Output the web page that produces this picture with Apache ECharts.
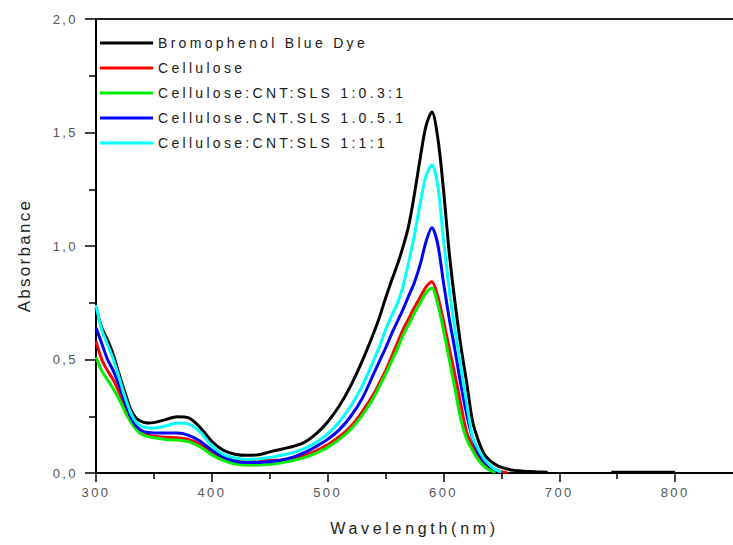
<!DOCTYPE html>
<html>
<head>
<meta charset="utf-8">
<script src="https://cdn.jsdelivr.net/npm/echarts@6.0.0/dist/echarts.min.js"></script>
<style>
  html, body { margin: 0; padding: 0; background: #fff; }
  #chart { width: 733px; height: 545px; }
  #chart text[style*="13px"] { letter-spacing: 2.4px; }
  #chart text[style*="14px"] { letter-spacing: 3.3px; }
  #chart text[style*="16px"] { letter-spacing: 3.7px; }
  #chart text[style*="17px"] { letter-spacing: 2.3px; }
</style>
</head>
<body>
<div id="chart"></div>
<script>
// Wavelength sampling points (nm)
const wavelengths = [300,305,310,315,320,325,330,335,340,345,350,360,370,380,390,400,410,420,430,440,450,460,470,480,490,500,510,520,530,540,545,550,555,560,565,570,575,580,585,590,595,600,605,610,615,620,625,630,635,640,645,650,655,660,670,680,690,700,745,760,780,800];

// Absorbance values for each sample
const bromophenolBlue = [0.73,0.64,0.585,0.52,0.435,0.355,0.28,0.24,0.225,0.22,0.222,0.235,0.248,0.243,0.20,0.14,0.10,0.083,0.078,0.08,0.093,0.105,0.117,0.135,0.172,0.225,0.295,0.385,0.495,0.62,0.69,0.77,0.845,0.915,0.995,1.09,1.23,1.39,1.53,1.59,1.48,1.25,0.97,0.75,0.56,0.40,0.23,0.145,0.085,0.055,0.037,0.025,0.018,0.012,0.008,0.005,0.003,null,0.003,0.003,0.003,0.003];
const cellulose = [0.58,0.50,0.45,0.41,0.355,0.29,0.235,0.195,0.175,0.166,0.162,0.157,0.155,0.148,0.125,0.09,0.068,0.06,0.058,0.057,0.056,0.056,0.062,0.078,0.098,0.124,0.16,0.205,0.27,0.35,0.40,0.45,0.51,0.57,0.63,0.68,0.73,0.775,0.82,0.843,0.78,0.67,0.55,0.43,0.30,0.18,0.12,0.07,0.045,0.025,0.012,0.006,0.002,null,null,null,null,null,null,null,null,null];
const cntSls031 = [0.51,0.45,0.41,0.37,0.325,0.27,0.225,0.19,0.17,0.16,0.155,0.148,0.145,0.138,0.115,0.08,0.055,0.04,0.035,0.035,0.038,0.045,0.055,0.068,0.088,0.113,0.148,0.193,0.255,0.335,0.385,0.435,0.49,0.545,0.605,0.655,0.705,0.75,0.795,0.815,0.745,0.63,0.50,0.37,0.235,0.15,0.10,0.058,0.03,0.012,0.003,null,null,null,null,null,null,null,null,null,null,null];
const cntSls051 = [0.64,0.57,0.50,0.45,0.385,0.31,0.245,0.205,0.185,0.178,0.176,0.176,0.176,0.166,0.14,0.10,0.07,0.052,0.046,0.046,0.05,0.057,0.07,0.09,0.117,0.148,0.19,0.25,0.33,0.44,0.495,0.55,0.61,0.665,0.72,0.78,0.84,0.92,1.02,1.08,1.01,0.84,0.68,0.54,0.39,0.26,0.155,0.09,0.05,0.028,0.013,0.004,null,null,null,null,null,null,null,null,null,null];
const cntSls111 = [0.74,0.63,0.565,0.50,0.42,0.335,0.265,0.222,0.205,0.198,0.198,0.207,0.22,0.215,0.18,0.12,0.082,0.066,0.06,0.062,0.068,0.078,0.09,0.108,0.135,0.172,0.225,0.295,0.385,0.50,0.56,0.63,0.69,0.745,0.82,0.93,1.05,1.19,1.31,1.357,1.27,1.03,0.81,0.63,0.47,0.31,0.16,0.105,0.062,0.035,0.015,0.005,null,null,null,null,null,null,null,null,null,null];

const seriesNames = ['Bromophenol Blue Dye','Cellulose','Cellulose:CNT:SLS 1:0.3:1','Cellulose.CNT.SLS 1.0.5.1','Cellulose:CNT:SLS 1:1:1'];
const seriesValues = [bromophenolBlue, cellulose, cntSls031, cntSls051, cntSls111];
const seriesColors = ['#000000','#ff0000','#00f000','#0000ff','#00ffff'];

const xMajorTicks = [300,400,500,600,700,800];
const xMinorTicks = [350,450,550,650,750];

const chart = echarts.init(document.getElementById('chart'), null, {renderer: 'svg'});

const labelStyle = {color: '#555', fontSize: 13, fontFamily: 'Liberation Sans'};

const option = {
  animation: false,
  backgroundColor: '#fff',
  grid: {left: 96, top: 19, width: 641, height: 454, containLabel: false},
  legend: {
    left: 100, top: 36, padding: 0, orient: 'vertical', selectedMode: false,
    icon: 'rect', itemWidth: 53, itemHeight: 3, itemGap: 11,
    textStyle: {fontSize: 14, fontFamily: 'Liberation Sans', color: '#1a1a1a', lineHeight: 14},
    data: seriesNames
  },
  xAxis: [
    {
      type: 'value', min: 300, max: 850, position: 'bottom',
      axisLine: {show: true, onZero: false, lineStyle: {color: '#000', width: 2}},
      axisTick: {show: true, customValues: xMajorTicks, length: 9, lineStyle: {color: '#000', width: 1.5}},
      axisLabel: Object.assign({customValues: xMajorTicks, margin: 13}, labelStyle),
      splitLine: {show: false},
      name: 'Wavelength(nm)', nameLocation: 'middle', nameGap: 47,
      nameTextStyle: {fontSize: 16, fontFamily: 'Liberation Sans', color: '#222'}
    },
    {
      type: 'value', min: 300, max: 850, position: 'bottom',
      axisLine: {show: false, onZero: false},
      axisTick: {show: true, customValues: xMinorTicks, length: 6, lineStyle: {color: '#000', width: 1.5}},
      axisLabel: {show: false},
      splitLine: {show: false}
    },
    {
      type: 'value', min: 300, max: 850, position: 'top',
      axisLine: {show: true, onZero: false, lineStyle: {color: '#222', width: 2}},
      axisTick: {show: false}, axisLabel: {show: false}, splitLine: {show: false}
    }
  ],
  yAxis: {
    type: 'value', min: 0, max: 2, interval: 0.5,
    axisLine: {show: true, onZero: false, lineStyle: {color: '#000', width: 2}},
    axisTick: {show: true, length: 11, lineStyle: {color: '#000', width: 1.5}},
    minorTick: {show: true, splitNumber: 2, length: 7, lineStyle: {color: '#000', width: 1.5}},
    axisLabel: Object.assign({margin: 18, formatter: v => v.toFixed(1).replace('.', ',')}, labelStyle),
    splitLine: {show: false},
    name: 'Absorbance', nameLocation: 'middle', nameGap: 63,
    nameTextStyle: {fontSize: 17, fontFamily: 'Liberation Sans', color: '#222', padding: [0, 19, 0, 0]}
  },
  series: seriesNames.map((name, k) => ({
    name: name,
    type: 'line',
    xAxisIndex: 0,
    symbol: 'none',
    smooth: 0.3,
    connectNulls: false,
    color: seriesColors[k],
    lineStyle: {width: 3, color: seriesColors[k]},
    data: wavelengths.map((w, i) => [w, seriesValues[k][i] === null ? '-' : seriesValues[k][i]])
  }))
};

chart.setOption(option);
</script>
</body>
</html>
